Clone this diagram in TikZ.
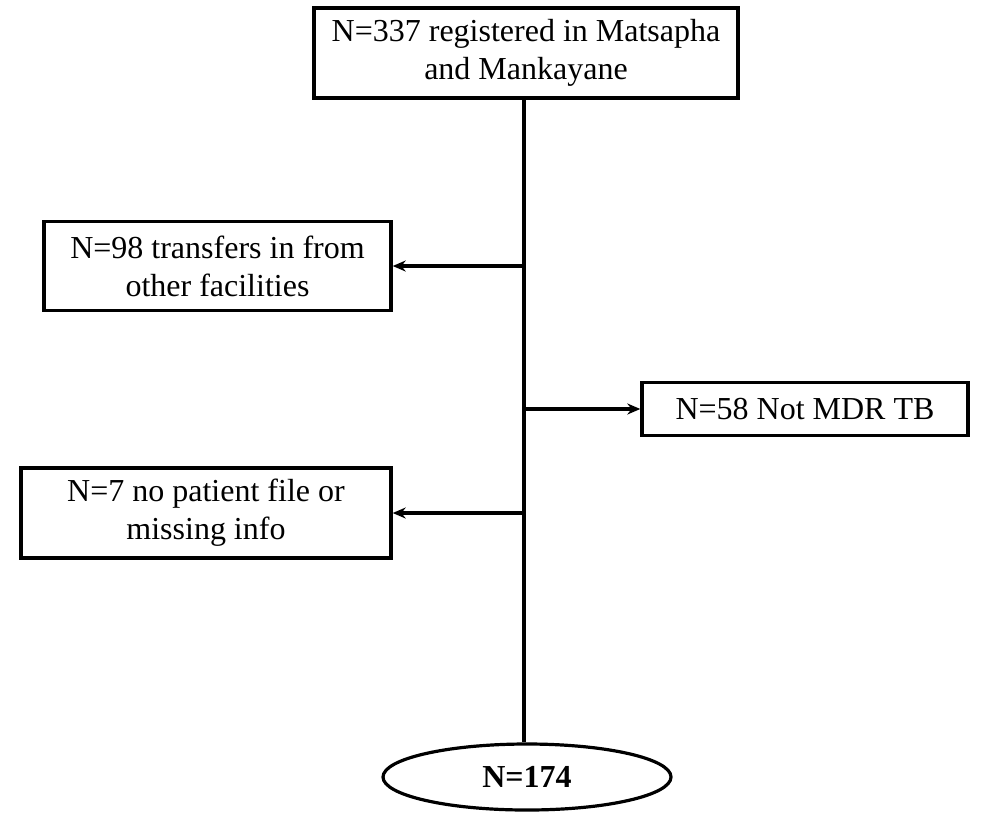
\documentclass[tikz,border=0pt]{standalone}
\usepackage{fontspec}
\setmainfont{Liberation Serif}
\usetikzlibrary{shapes.geometric,arrows.meta}
\tikzset{
  boxstyle/.style={draw,line width=3.4pt,align=center,inner sep=0pt,font=\fontsize{32}{38}\selectfont},
  arrowline/.style={line width=3.3pt,-{Stealth[length=13pt,width=11pt]}}
}
\begin{document}
\begin{tikzpicture}[x=1pt,y=-1pt]
\useasboundingbox (0,0) rectangle (992,812);
\node[boxstyle,minimum width=424pt,minimum height=90pt] (top) at (526,53) {N=337 registered in Matsapha\\and Mankayane};
\node[boxstyle,minimum width=347pt,minimum height=89pt] (b2) at (217.5,266) {N=98 transfers in from\\other facilities};
\node[boxstyle,minimum width=326pt,minimum height=53pt] (b3) at (805,409) {N=58 Not MDR TB};
\node[boxstyle,minimum width=370pt,minimum height=90pt] (b4) at (206,513) {N=7 no patient file or\\missing info};
\node[draw,ellipse,line width=3.2pt,minimum width=288pt,minimum height=66pt,inner sep=0pt,font=\fontsize{32}{38}\selectfont\bfseries] (ell) at (527,777) {N=174};
\draw[line width=3.2pt] (top.south -| 524,0) -- (ell.north -| 524,0);
\coordinate (j1) at (524,266);
\coordinate (j2) at (524,409);
\coordinate (j3) at (524,513);
\draw[arrowline] (j1) -- (b2.east);
\draw[arrowline] (j2) -- (b3.west);
\draw[arrowline] (j3) -- (b4.east);
\end{tikzpicture}
\end{document}
